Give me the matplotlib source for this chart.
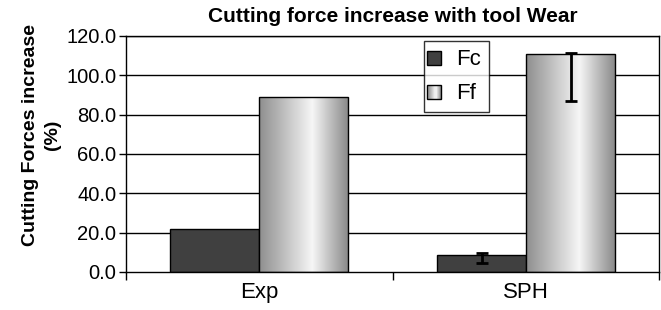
import matplotlib.pyplot as plt
import numpy as np
from matplotlib.patches import Rectangle
from matplotlib.legend_handler import HandlerBase
from matplotlib.colors import LinearSegmentedColormap

categories = ['Exp', 'SPH']
fc = [21.7, 8.5]
ff = [89.0, 111.0]
fc_err_low = [0.0, 3.8]
fc_err_high = [0.0, 1.3]
ff_err_low = [0.0, 24.0]
ff_err_high = [0.0, 0.5]
yticks = [0, 20, 40, 60, 80, 100, 120]

plt.rcParams['font.family'] = ['Liberation Sans', 'DejaVu Sans']

grad = LinearSegmentedColormap.from_list(
    'cyl', [(0.0, '#8e8e8e'), (0.6, '#f6f6f6'), (1.0, '#8a8a8a')])


class GradientHandler(HandlerBase):
    # legend key drawn as a row of thin strips
    def create_artists(self, legend, orig, xd, yd, w, h, fs, trans):
        s = min(w, h) * 0.9
        x0 = xd + (w - s) / 2 - 6
        arts = []
        n = 12
        for i in range(n):
            arts.append(Rectangle((x0 + i * s / n, -yd), s / n, s,
                                  facecolor=grad((i + 0.5) / n), edgecolor='none',
                                  transform=trans))
        arts.append(Rectangle((x0, -yd), s, s, facecolor='none', edgecolor='black',
                              lw=1, transform=trans))
        return arts


class SquareHandler(HandlerBase):
    def create_artists(self, legend, orig, xd, yd, w, h, fs, trans):
        s = min(w, h) * 0.9
        x0 = xd + (w - s) / 2 - 6
        return [Rectangle((x0, -yd), s, s, facecolor='#404040', edgecolor='black',
                          lw=1, transform=trans)]


fig = plt.figure(figsize=(6.61, 3.10), dpi=100)
ax = fig.add_axes([0.1906, 0.1226, 0.807, 0.7614])

x = np.arange(len(categories))
w = 1 / 3

ax.set_ylim(0, 120)
ax.set_xlim(-0.5, len(categories) - 0.5)
for yv in yticks[1:]:
    ax.axhline(yv, color='black', lw=1, zorder=1)

bars_fc = ax.bar(x - w / 2, fc, w, color='#404040', edgecolor='black', lw=1, zorder=2)
bars_ff = ax.bar(x + w / 2, ff, w, color='none', edgecolor='black', lw=1, zorder=3)

gimg = np.linspace(0, 1, 256).reshape(1, -1)
for b in bars_ff:
    im = ax.imshow(gimg, cmap=grad, aspect='auto', zorder=2,
                   extent=[b.get_x(), b.get_x() + b.get_width(), 0, b.get_height()])
    im.set_clip_path(b)

for vals, lo, hi, off in [(fc, fc_err_low, fc_err_high, -w / 2),
                          (ff, ff_err_low, ff_err_high, w / 2)]:
    idx = [i for i in range(len(vals)) if lo[i] > 0 or hi[i] > 0]
    ax.errorbar(x[idx] + off, [vals[i] for i in idx],
                yerr=[[lo[i] for i in idx], [hi[i] for i in idx]],
                fmt='none', ecolor='black', elinewidth=2, capsize=4, capthick=2, zorder=4)

ax.set_yticks(yticks)
ax.set_yticklabels(['%.1f' % v for v in yticks], fontsize=14.5)
ax.set_xticks(x)
ax.set_xticklabels(categories, fontsize=16)
ax.tick_params(axis='x', length=0, pad=7)
ax.set_xticks(np.arange(-0.5, len(categories), 1), minor=True)
ax.tick_params(axis='x', which='minor', length=6, width=1, direction='out')
ax.tick_params(axis='y', length=5, width=1, direction='out', pad=2)
for sp in ax.spines.values():
    sp.set_linewidth(1)
    sp.set_color('black')

ax.set_title('Cutting force increase with tool Wear', fontsize=15, fontweight='bold', pad=10)
ax.set_ylabel('Cutting Forces increase\n(%)', fontsize=14, fontweight='bold',
              linespacing=1.35)
ax.yaxis.set_label_coords(-0.122, 0.58)

leg = ax.legend([bars_fc, bars_ff], ['Fc', 'Ff'], loc='upper left',
                bbox_to_anchor=(0.558, 0.979), fontsize=16, frameon=True, fancybox=False,
                handler_map={bars_fc: SquareHandler(), bars_ff: GradientHandler()},
                handlelength=1.0, handletextpad=0.1, borderpad=0.35, labelspacing=0.6,
                borderaxespad=0)
leg.get_frame().set_edgecolor('black')
leg.get_frame().set_linewidth(1)
leg.set_zorder(5)

fig.savefig('out.png', dpi=100)
